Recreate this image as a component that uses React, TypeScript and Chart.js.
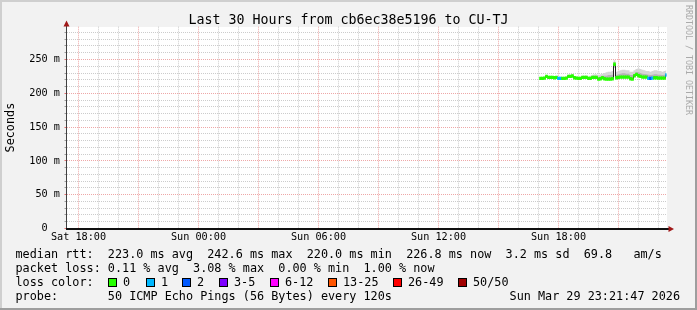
import React, { useEffect, useRef } from 'react';
import { Chart, registerables } from 'chart.js';

Chart.register(...registerables);

// ---- data (x in hours after Sat 18:00, values in ms) ----
const startHour = 23.1;
const stepHours = 0.1;

const medianMs = [
  222, 222, 222.5, 225, 223.5, 223.5, 223.5, 223, 223.5, 222,
  222, 222, 222, 222.5, 225, 225, 225.5, 223, 222.5, 222,
  222, 223.5, 223.5, 223.5, 222, 222, 223.5, 223.5, 223.5, 221,
  221.5, 223, 221.5, 221, 221, 221, 221.5, 243, 223, 223.5,
  224, 224, 224, 224, 224, 221.5, 221, 226, 228, 226,
  225, 224, 224, 224, 222, 222, 222.5, 223, 223, 222.5,
  222.5, 222.5, 222.5, 227,
];

const lossCount = [
  0, 0, 0, 0, 0, 0, 0, 0, 0, 1,
  1, 0, 0, 0, 0, 0, 0, 0, 0, 0,
  0, 0, 0, 0, 0, 0, 0, 0, 0, 0,
  0, 0, 0, 0, 0, 0, 0, 0, 0, 0,
  0, 0, 0, 0, 0, 0, 0, 0, 0, 0,
  0, 0, 0, 0, 1, 2, 1, 0, 0, 0,
  0, 0, 0, 1,
];

const smokeLowMs = [
  220.5, 220.5, 221, 223.5, 222, 222, 222, 221.5, 222, 220.5,
  220.5, 220.5, 220.5, 221, 223.5, 223.5, 224, 221.5, 221, 220.5,
  220.5, 222, 222, 222, 220.5, 220.5, 222, 222, 222, 219.5,
  220, 221.5, 220, 219.5, 219.5, 219.5, 220, 238, 221.5, 222,
  222.5, 222.5, 222.5, 222.5, 222.5, 220, 219.5, 224, 226, 224.5,
  223.5, 222.5, 222.5, 222.5, 220.5, 220.5, 221, 221.5, 221.5, 221,
  221, 221, 221, 225,
];

const smokeMidMs = [
  223, 223, 223.5, 226, 224.5, 224.5, 224.5, 224, 224.5, 223,
  223, 223, 223, 223.5, 226, 226, 226.5, 224, 223.5, 223,
  223, 224.5, 224.5, 224.5, 223, 223.5, 225, 225.5, 225.5, 224,
  225, 226, 226, 226, 227, 227, 227.5, 246, 227, 228,
  229, 229.5, 229.5, 229, 229, 227, 227, 229, 231, 231,
  230, 229, 228.5, 228, 227.5, 227, 227.5, 228, 228, 227.5,
  227.5, 227, 227.5, 229,
];

const smokeHighMs = [
  224, 224, 224.5, 227, 225.5, 225.5, 225.5, 225, 225.5, 224.5,
  224.5, 224, 224, 225, 227.5, 227.5, 228, 225.5, 225, 224.5,
  224.5, 226, 226, 226.5, 225, 226, 227.5, 228, 228, 227,
  228, 229, 230, 231, 232, 232, 233, 249, 232, 233,
  234, 235, 235, 234, 234, 232, 232, 234, 236, 237,
  236, 235, 234, 233, 233, 232, 233, 234, 234, 233,
  233, 232, 233, 234,
];

const xTickHours = [0, 6, 12, 18, 24];
const xTickLabels = ['Sat 18:00', 'Sun 00:00', 'Sun 06:00', 'Sun 12:00', 'Sun 18:00'];
const yLabelValues = [0, 50, 100, 150, 200, 250];
const yTickLabels = ['0  ', '50 m', '100 m', '150 m', '200 m', '250 m'];

const lossLabels = ['0', '1', '2', '3-5', '6-12', '13-25', '26-49', '50/50'];
const lossThresholds = [0, 1, 2, 3, 6, 13, 26, 50];
const lossColors = ['#26ff00', '#00b8ff', '#0059ff', '#7e00ff', '#ff00ff', '#ff5500', '#ff0000', '#a10000'];

const titleText = 'Last 30 Hours from cb6ec38e5196 to CU-TJ';
const yAxisTitle = 'Seconds';
const rttLine = 'median rtt:  223.0 ms avg  242.6 ms max  220.0 ms min  226.8 ms now  3.2 ms sd  69.8   am/s';
const lossLine = 'packet loss: 0.11 % avg  3.08 % max  0.00 % min  1.00 % now';
const lossColorTitle = 'loss color:';
const probeLine = 'probe:       50 ICMP Echo Pings (56 Bytes) every 120s';
const stampText = 'Sun Mar 29 23:21:47 2026';
const watermark = 'RRDTOOL / TOBI OETIKER';

// ---- layout ----
const W = 697;
const H = 310;
const MONO = '"DejaVu Sans Mono", monospace';
const boxX = [108, 146, 182, 219, 270, 328, 393, 458];
const MAJOR_GRID = 'rgba(222,80,80,0.5)';
const MINOR_GRID = 'rgba(143,143,143,0.45)';
const BAND_HALF = 2;

function colorForLoss(n: number) {
  let k = 0;
  lossThresholds.forEach((t, j) => { if (n >= t) k = j; });
  return lossColors[k];
}

export default function App() {
  const ref = useRef<HTMLCanvasElement>(null);

  useEffect(() => {
    document.body.style.margin = '0';
    const canvas = ref.current!;
    const times = medianMs.map((_, i) => +(startHour + i * stepHours).toFixed(3));
    const pts = (arr: number[]) => arr.map((v, i) => ({ x: times[i], y: v }));
    const hourTicks: number[] = [];
    for (let h = 0; h <= 29; h++) hourTicks.push(h);
    const yGrid: number[] = [];
    for (let v = 0; v <= 290; v += 10) yGrid.push(v);

    const decor = {
      id: 'decor',
      beforeDraw(chart: any) {
        const ctx = chart.ctx;
        const a = chart.chartArea;
        ctx.save();
        ctx.fillStyle = '#f2f2f2';
        ctx.fillRect(0, 0, W, H);
        ctx.fillStyle = '#cfcfcf';
        ctx.fillRect(0, 0, W, 2);
        ctx.fillRect(0, 0, 2, H);
        ctx.fillStyle = '#9e9e9e';
        ctx.fillRect(0, H - 2, W, 2);
        ctx.fillRect(W - 2, 0, 2, H);
        ctx.fillStyle = '#ffffff';
        ctx.fillRect(Math.round(a.left), Math.round(a.top), Math.round(a.right - a.left), Math.round(a.bottom - a.top));
        ctx.restore();
      },
      afterDraw(chart: any) {
        const ctx = chart.ctx;
        const a = chart.chartArea;
        ctx.save();
        // axes
        ctx.fillStyle = '#404040';
        ctx.fillRect(Math.floor(a.left), a.top - 4, 1, a.bottom - a.top + 5);
        ctx.fillStyle = '#101010';
        ctx.fillRect(Math.floor(a.left), Math.floor(a.bottom), a.right - a.left + 4, 2);
        // arrows
        ctx.fillStyle = '#a01818';
        ctx.beginPath();
        ctx.moveTo(a.left, 20.5);
        ctx.lineTo(a.left - 3, 26.5);
        ctx.lineTo(a.left + 3, 26.5);
        ctx.closePath();
        ctx.fill();
        ctx.beginPath();
        ctx.moveTo(a.right + 7.5, a.bottom + 0.5);
        ctx.lineTo(a.right + 2, a.bottom - 2.5);
        ctx.lineTo(a.right + 2, a.bottom + 3.5);
        ctx.closePath();
        ctx.fill();

        // title
        ctx.fillStyle = '#000';
        ctx.textBaseline = 'alphabetic';
        ctx.textAlign = 'center';
        ctx.font = `13.3px ${MONO}`;
        ctx.fillText(titleText, W / 2, 24);

        // y title
        ctx.save();
        ctx.translate(11, (a.top + a.bottom) / 2);
        ctx.rotate(-Math.PI / 2);
        ctx.textBaseline = 'middle';
        ctx.font = `11.8px ${MONO}`;
        ctx.fillText(yAxisTitle, 0, 0);
        ctx.restore();

        // watermark
        ctx.save();
        ctx.translate(688.5, 5);
        ctx.rotate(Math.PI / 2);
        ctx.textAlign = 'left';
        ctx.textBaseline = 'middle';
        ctx.fillStyle = '#aaaaaa';
        ctx.font = `8.3px ${MONO}`;
        ctx.fillText(watermark, 0, 0);
        ctx.restore();

        // legend lines
        ctx.font = `11.8px ${MONO}`;
        ctx.textAlign = 'left';
        ctx.fillStyle = '#000';
        ctx.fillText(rttLine, 15.5, 258.3);
        ctx.fillText(lossLine, 15.5, 272.3);
        ctx.fillText(lossColorTitle, 15.5, 286.3);
        ctx.fillText(probeLine, 15.5, 300.3);
        lossLabels.forEach((lab, i) => {
          const bx = boxX[i];
          ctx.fillStyle = '#000';
          ctx.fillRect(bx, 278, 9, 9);
          ctx.fillStyle = lossColors[i];
          ctx.fillRect(bx + 1, 279, 7, 7);
          ctx.fillStyle = '#000';
          ctx.fillText(lab, bx + 15, 286.3);
        });
        ctx.textAlign = 'right';
        ctx.fillText(stampText, 680, 300.3);
        ctx.restore();
      },
    };

    const chart = new Chart(canvas, {
      type: 'line',
      data: {
        datasets: [
          { type: 'line', data: pts(smokeLowMs), borderColor: 'rgba(0,0,0,0)', pointRadius: 0, fill: false, stepped: 'middle', order: 10 },
          { type: 'line', data: pts(smokeHighMs), borderColor: 'rgba(0,0,0,0)', pointRadius: 0, fill: 0, backgroundColor: '#d6d6d6', stepped: 'middle', order: 9 },
          { type: 'line', data: pts(smokeMidMs), borderColor: 'rgba(0,0,0,0)', pointRadius: 0, fill: 0, backgroundColor: '#b4b4b4', stepped: 'middle', order: 8 },
          { type: 'line', data: pts(medianMs), borderColor: '#202020', borderWidth: 1, pointRadius: 0, fill: false, stepped: 'middle', order: 2 },
          {
            type: 'bar',
            data: medianMs.map((v, i) => ({ x: times[i], y: [v - BAND_HALF, v + BAND_HALF] })),
            backgroundColor: lossCount.map(colorForLoss),
            barThickness: 2,
            grouped: false,
            order: 1,
          },
        ],
      } as any,
      options: {
        responsive: false,
        animation: false,
        devicePixelRatio: 1,
        events: [],
        layout: { padding: { left: 0, right: 30.5, top: 26.7, bottom: 61.5 } },
        plugins: { legend: { display: false }, tooltip: { enabled: false }, title: { display: false } },
        scales: {
          x: {
            type: 'linear',
            min: -0.6,
            max: 29.4,
            offset: false,
            afterFit: (s: any) => { s.height = 20; },
            afterBuildTicks: (s: any) => { s.ticks = hourTicks.map((v) => ({ value: v })); },
            grid: {
              offset: false,
              lineWidth: 1,
              drawTicks: false,
              color: (c: any) => (c.tick && c.tick.value % 3 === 0 ? MAJOR_GRID : MINOR_GRID),
            },
            border: { display: false, dash: [1, 1] },
            ticks: {
              autoSkip: false,
              maxRotation: 0,
              padding: 2.4,
              color: '#000',
              font: { family: MONO, size: 10.2 },
              callback: (v: any) => {
                const i = xTickHours.indexOf(Number(v));
                return i >= 0 ? xTickLabels[i] : '';
              },
            },
          },
          y: {
            type: 'linear',
            min: 0,
            max: 298.5,
            afterFit: (s: any) => { s.width = 66.5; },
            afterBuildTicks: (s: any) => { s.ticks = yGrid.map((v) => ({ value: v })); },
            grid: {
              lineWidth: 1,
              drawTicks: true,
              tickLength: 2,
              color: (c: any) => (c.tick && c.tick.value % 50 === 0 ? MAJOR_GRID : MINOR_GRID),
              tickColor: (c: any) => (c.tick && c.tick.value % 50 === 0 ? 'rgba(222,80,80,0.8)' : 'rgba(120,120,120,0.7)'),
            },
            border: { display: false, dash: [1, 1] },
            ticks: {
              autoSkip: false,
              padding: 4.5,
              color: '#000',
              font: { family: MONO, size: 10.2 },
              callback: (v: any) => {
                const i = yLabelValues.indexOf(Number(v));
                return i >= 0 ? yTickLabels[i] : '';
              },
            },
          },
        },
      } as any,
      plugins: [decor],
    });
    return () => chart.destroy();
  }, []);

  return <canvas ref={ref} width={W} height={H} style={{ display: 'block', width: W, height: H }} />;
}
